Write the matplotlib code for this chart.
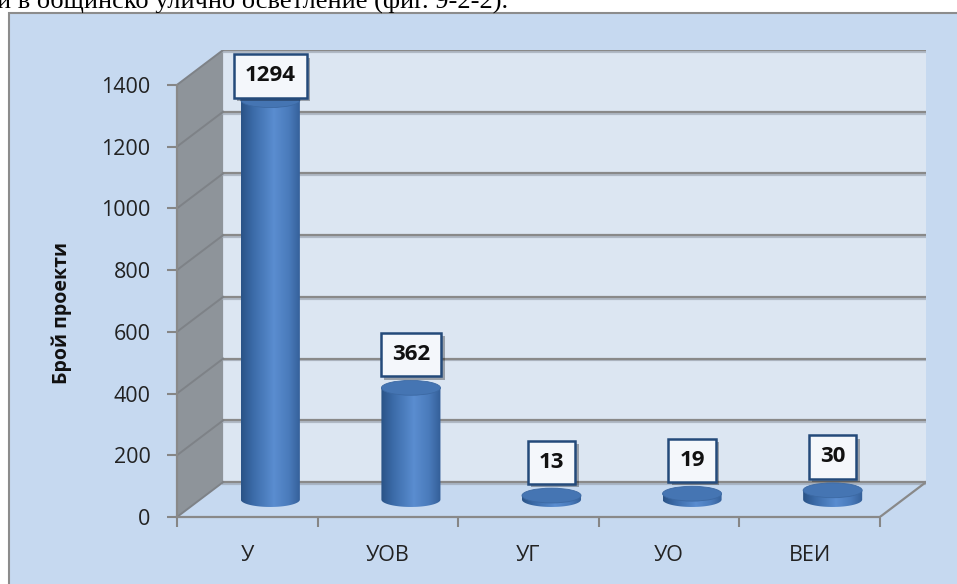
import numpy as np
import matplotlib
matplotlib.use("Agg")
from matplotlib import pyplot as plt
from matplotlib.patches import Polygon, Ellipse, Rectangle
from matplotlib.colors import LinearSegmentedColormap
import matplotlib.patheffects as pe

# data
categories = ["У", "УОВ", "УГ", "УО", "ВЕИ"]
values = [1294, 362, 13, 19, 30]
yticks = [0, 200, 400, 600, 800, 1000, 1200, 1400]
ylabel = "Брой проекти"
caption = "и в общинско улично осветление (фиг. 9-2-2)."

plt.rcParams['font.family'] = ['Open Sans', 'DejaVu Sans']

W, H = 957, 584
fig = plt.figure(figsize=(W / 100, H / 100), dpi=100)
fig.patch.set_facecolor("white")

# chart area frame (runs off the right / bottom of the picture)
fig.patches.append(Rectangle((9 / W, -0.05), 1.0, 1 - 13 / H + 0.05, transform=fig.transFigure,
                             facecolor="#C6D9F0", edgecolor="#8C8C8C", lw=1.5, zorder=0))
# cut-off text line of the document above the chart
fig.text(-3 / W, 1 - 7.5 / H, caption, family="Liberation Serif", fontsize=19, va="baseline", ha="left")

# 3d depth of the plot box, in data units
dx = 0.328
dy = 113
ymax = yticks[-1]
n = len(categories)
x0, x1 = -0.5, n - 0.5

ax = fig.add_axes([177 / W, 1 - 517 / H, 749 / W, 467 / H])
ax.set_zorder(2)
ax.patch.set_visible(False)

# walls and floor
ax.add_patch(Polygon([(x0 + dx, dy), (x1 + dx, dy), (x1 + dx, ymax + dy), (x0 + dx, ymax + dy)],
                     fc="#DCE6F2", ec="none", zorder=1))
ax.add_patch(Polygon([(x0, 0), (x0, ymax), (x0 + dx, ymax + dy), (x0 + dx, dy)],
                     fc="#8E949A", ec="none", zorder=1))
ax.add_patch(Polygon([(x0, 0), (x1, 0), (x1 + dx, dy), (x0 + dx, dy)],
                     fc="#C6D9F0", ec="none", zorder=1))

# gridlines on back wall and side wall
shadow = [pe.SimpleLineShadow(offset=(0, -1.3), shadow_color="#9EA7B3", alpha=0.7), pe.Normal()]
for y in yticks:
    ax.plot([x0 + dx, x1 + dx], [y + dy, y + dy], color="#898989", lw=1.6, zorder=2, path_effects=shadow)
    ax.plot([x0, x0 + dx], [y, y + dy], color="#7E8287", lw=1.4, zorder=2)
ax.plot([x1, x1 + dx], [0, dy], color="#898989", lw=1.6, zorder=2)

# cylinders
cmap = LinearSegmentedColormap.from_list("bar", [(0, "#2A5386"), (0.2, "#3B6BA8"), (0.55, "#5A8DD0"),
                                                 (0.8, "#4A7BBB"), (1, "#335E97")])
grad = np.linspace(0, 1, 256).reshape(1, -1)
rx, ry = 0.21, 24
t = np.linspace(np.pi, 2 * np.pi, 60)
for i, v in enumerate(values):
    xc = i + dx / 2
    yb = dy / 2
    yt = yb + v
    verts = [(xc - rx, yt), (xc - rx, yb)] + list(zip(xc + rx * np.cos(t), yb + ry * np.sin(t))) + [(xc + rx, yt)]
    clip = Polygon(verts, closed=True, transform=ax.transData)
    im = ax.imshow(grad, cmap=cmap, aspect="auto", extent=[xc - rx, xc + rx, yb - ry, yt], zorder=3)
    im.set_clip_path(clip)
    ax.add_patch(Ellipse((xc, yt), 2 * rx, 2 * ry, fc="#4575B3", ec="#3C69A3", lw=0.6, zorder=4))

# value labels
for i, v in enumerate(values):
    ytxt = min(v + dy / 2 + 108, 1429)
    txt = ax.text(i + dx / 2, ytxt, str(v), ha="center", va="center", fontsize=16, fontweight="bold",
                  color="#111111", zorder=6,
                  bbox=dict(boxstyle="square,pad=0.5", fc="#F4F7FB", ec="#244A7A", lw=1.8))
    txt.get_bbox_patch().set_path_effects([pe.SimplePatchShadow(offset=(2.5, -2.5), shadow_rgbFace="black",
                                                                alpha=0.3), pe.Normal()])

# axes
ax.set_xlim(x0, x1 + dx)
ax.set_ylim(0, ymax + dy)
ax.set_yticks(yticks)
ax.set_xticks(range(n))
ax.set_xticklabels(categories)
ax.set_xticks(np.arange(n + 1) - 0.5, minor=True)
ax.tick_params(axis="y", length=7, width=1.5, color="#868686", pad=12, labelsize=15.5, labelcolor="#222222")
ax.tick_params(axis="x", which="major", length=0, pad=20, labelsize=15.5, labelcolor="#222222")
ax.tick_params(axis="x", which="minor", length=7, width=1.5, color="#868686")
for s in ["top", "right"]:
    ax.spines[s].set_visible(False)
ax.spines["left"].set_bounds(0, ymax)
ax.spines["bottom"].set_bounds(x0, x1)
for s in ["left", "bottom"]:
    ax.spines[s].set_color("#898989")
    ax.spines[s].set_linewidth(1.6)
    ax.spines[s].set_zorder(2.5)

ax.set_ylabel(ylabel, fontsize=14, fontweight="bold", color="#111111")
ax.yaxis.set_label_coords(-0.14, 0.437)

plt.savefig("out.png", dpi=100)
